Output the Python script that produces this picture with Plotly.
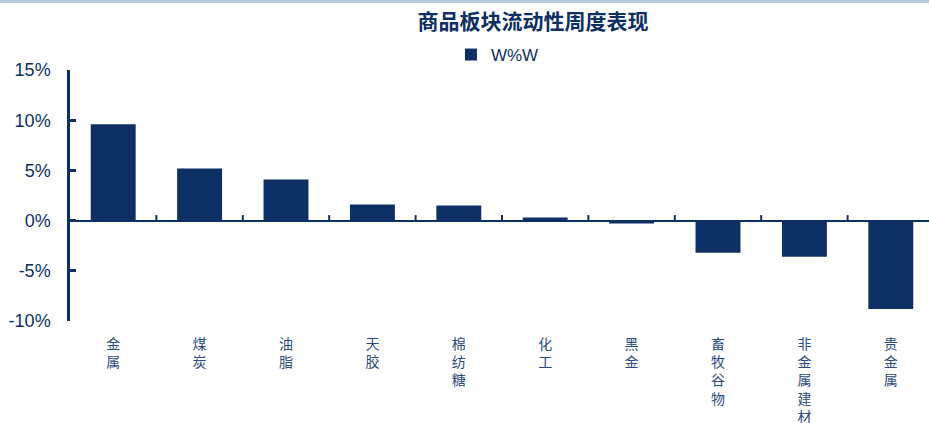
import plotly.graph_objects as go

categories = ["金属", "煤炭", "油脂", "天胶", "棉纺糖", "化工", "黑金", "畜牧谷物", "非金属建材", "贵金属"]
wow = [9.6, 5.2, 4.1, 1.6, 1.5, 0.3, -0.3, -3.2, -3.6, -8.8]
y_ticks = [-10, -5, 0, 5, 10, 15]
y_tick_labels = ["-10%", "-5%", "0%", "5%", "10%", "15%"]

navy = "#0d2f63"
label_color = "#2b4a7e"

W, H = 929, 423
ml, mt, mb, mr = 70, 70, 102, 0
plot_w = W - ml - mr
plot_h = H - mt - mb
cat_px = 86.4

xs = list(range(len(categories)))
tick_text = ["<br>".join(list(c)) for c in categories]

fig = go.Figure()
fig.add_trace(go.Bar(
    x=xs, y=wow, name="W%W", marker=dict(color=navy, line=dict(width=0)),
    width=0.52,
))
# small tick marks on the zero line at category boundaries
bx, by = [], []
for i in range(len(categories)):
    b = i + 0.5
    bx += [b, b, None]
    by += [0, 0.55, None]
fig.add_trace(go.Scatter(x=bx, y=by, mode="lines", line=dict(color=navy, width=2),
                         showlegend=False, hoverinfo="skip"))

fig.update_layout(
    width=W, height=H,
    margin=dict(l=ml, r=mr, t=mt, b=mb, autoexpand=False),
    paper_bgcolor="white", plot_bgcolor="white",
    title=dict(text="<b>商品板块流动性周度表现</b>", x=533 / W, xanchor="center",
               y=1 - 22 / H, yanchor="middle", yref="container",
               font=dict(family="Noto Sans CJK SC", size=21, color=navy)),
    legend=dict(orientation="h", x=412 / W, xanchor="left", y=1 - 55 / H,
                yanchor="middle", yref="container",
                font=dict(family="Liberation Sans", size=17, color=navy),
                itemwidth=30, traceorder="normal"),
    showlegend=True,
    bargap=0.48,
    shapes=[dict(type="rect", xref="paper", yref="paper", x0=-ml / plot_w, x1=1.01,
                 y0=1 + (mt - 3) / plot_h, y1=1 + (mt + 2) / plot_h,
                 fillcolor="#b4c8dc", line=dict(width=0), layer="below")],
)
fig.update_xaxes(
    range=[-0.5, -0.5 + plot_w / cat_px],
    tickmode="array", tickvals=xs, ticktext=tick_text,
    showline=False, showgrid=False, zeroline=False, ticks="",
    tickfont=dict(family="Noto Sans CJK SC", size=14, color=label_color),
    ticklabelstandoff=13,
)
fig.update_yaxes(
    range=[-10, 15], tickmode="array", tickvals=y_ticks, ticktext=y_tick_labels,
    showline=True, linecolor=navy, linewidth=2.5,
    ticks="inside", ticklen=6, tickwidth=2.5, tickcolor=navy,
    showgrid=False, zeroline=True, zerolinecolor=navy, zerolinewidth=2,
    tickfont=dict(family="Liberation Sans", size=18, color=navy),
    ticklabelstandoff=13,
)

fig.write_html("out.html", config={"displayModeBar": False},
               post_script="document.body.style.margin='0px';document.body.style.overflow='hidden';")
